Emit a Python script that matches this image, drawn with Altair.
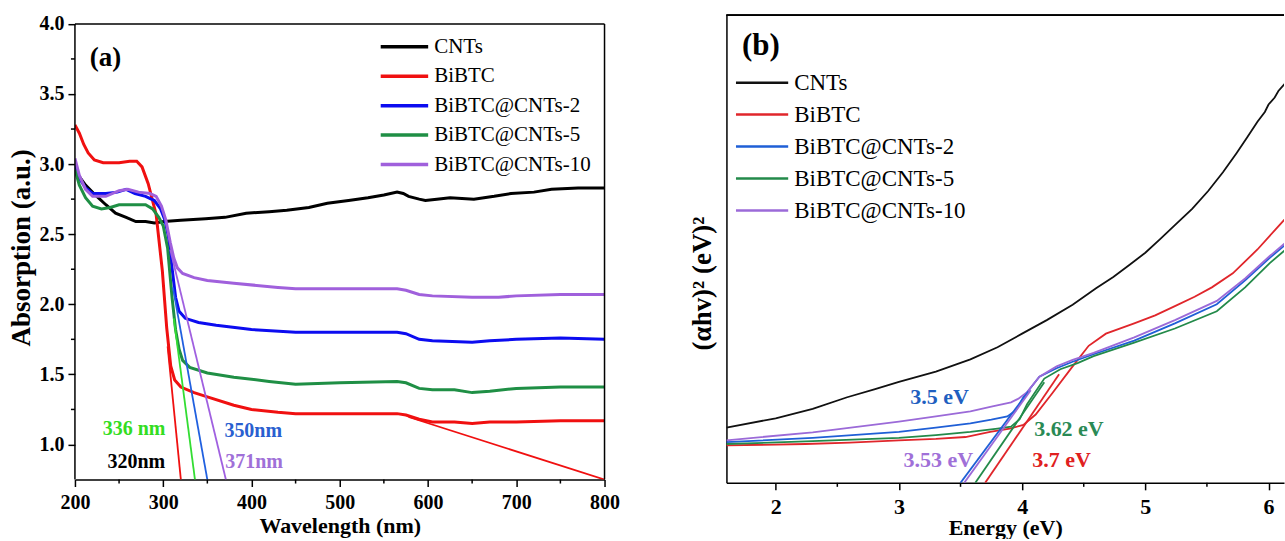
import altair as alt
import pandas as pd

FONT = "Liberation Serif"

series_names = ["CNTs", "BiBTC", "BiBTC@CNTs-2", "BiBTC@CNTs-5", "BiBTC@CNTs-10"]

# ---------------- panel (a): absorption spectra ----------------
wl_cnts = [200, 205, 212, 223, 235, 246, 258, 269, 280, 290, 301, 320, 348, 370, 394, 420, 440,
           465, 486, 510, 532, 550, 565, 572, 578, 590, 597, 610, 625, 652, 675, 694, 720, 740, 770, 800]
ab_cnts = [2.96, 2.91, 2.85, 2.78, 2.71, 2.65, 2.62, 2.59, 2.59, 2.58, 2.59, 2.60, 2.61, 2.62, 2.65, 2.66, 2.67,
           2.69, 2.72, 2.74, 2.76, 2.78, 2.80, 2.79, 2.77, 2.75, 2.74, 2.75, 2.76, 2.75, 2.77, 2.79, 2.80, 2.82, 2.83, 2.83]

wl_bibtc = [200, 205, 210, 215, 222, 232, 250, 262, 270, 276, 283, 292, 299, 304, 308.5, 313, 320, 335, 350,
            380, 400, 430, 450, 500, 565, 575, 590, 605, 630, 650, 670, 700, 750, 800]
ab_bibtc = [3.28, 3.22, 3.14, 3.08, 3.03, 3.01, 3.01, 3.02, 3.02, 2.98, 2.86, 2.64, 2.24, 1.83, 1.56, 1.46, 1.41,
            1.37, 1.34, 1.28, 1.25, 1.23, 1.22, 1.22, 1.22, 1.21, 1.18, 1.16, 1.16, 1.15, 1.16, 1.16, 1.17, 1.17]

wl_c2 = [200, 205, 212, 220, 235, 248, 258, 268, 280, 290, 297, 302, 306, 310, 314, 318, 325, 340, 360, 400,
         450, 500, 565, 575, 590, 605, 650, 670, 700, 750, 800]
ab_c2 = [3.00, 2.90, 2.83, 2.79, 2.79, 2.80, 2.82, 2.79, 2.77, 2.74, 2.68, 2.60, 2.48, 2.26, 2.05, 1.95, 1.90,
         1.87, 1.85, 1.82, 1.80, 1.80, 1.80, 1.79, 1.75, 1.74, 1.73, 1.74, 1.75, 1.76, 1.75]

wl_c5 = [200, 205, 212, 220, 230, 240, 250, 265, 280, 288, 295, 300, 305, 310, 314, 318, 322, 330, 350, 380,
         420, 450, 500, 565, 575, 590, 605, 630, 650, 670, 700, 750, 800]
ab_c5 = [2.96, 2.85, 2.76, 2.70, 2.68, 2.69, 2.71, 2.71, 2.71, 2.68, 2.62, 2.56, 2.40, 2.05, 1.82, 1.68, 1.60,
         1.55, 1.51, 1.48, 1.45, 1.43, 1.44, 1.45, 1.44, 1.40, 1.39, 1.39, 1.37, 1.38, 1.40, 1.41, 1.41]

wl_c10 = [200, 205, 212, 220, 235, 250, 260, 272, 285, 292, 298, 303, 308, 312, 316, 322, 335, 350, 380, 430,
          450, 500, 565, 575, 590, 605, 650, 680, 700, 750, 800]
ab_c10 = [3.04, 2.92, 2.82, 2.77, 2.77, 2.81, 2.82, 2.80, 2.79, 2.77, 2.70, 2.60, 2.44, 2.33, 2.26, 2.22, 2.19,
          2.17, 2.15, 2.12, 2.11, 2.11, 2.11, 2.10, 2.07, 2.06, 2.05, 2.05, 2.06, 2.07, 2.07]

# tangent (band-edge) lines, panel (a)
tan_a_names = ["t320", "t320", "tbase", "tbase", "t336", "t336", "t350", "t350", "t371", "t371"]
tan_a_wl = [320, 305, 578, 800, 336, 312, 350, 311, 371, 308]
tan_a_ab = [0.75, 1.70, 1.196, 0.75, 0.75, 1.90, 0.75, 2.12, 0.75, 2.39]
tan_a_col = ["#f01010", "#f01010", "#f01010", "#f01010", "#33dd33", "#33dd33",
             "#2060e0", "#2060e0", "#a060e0", "#a060e0"]

ann_a_txt = ["336 nm", "320nm", "350nm", "371nm"]
ann_a_wl = [267, 269.5, 402, 403]
ann_a_ab = [1.11, 0.875, 1.095, 0.875]
ann_a_col = ["#33dd22", "#000000", "#2a5fd0", "#a070d8"]

minor_a_x = [250, 350, 450, 550, 650, 750]
minor_a_y = [1.25, 1.75, 2.25, 2.75, 3.25, 3.75]

# frame of panel (a): top, left and right sides (wavelength / absorption extents)
frame_a_wl = [200, 200, 800]
frame_a_wl2 = [800, 200, 800]
frame_a_ab = [4.0, 0.75, 0.75]
frame_a_ab2 = [4.0, 4.0, 4.0]

# ---------------- panel (b): Tauc plot ----------------
e_cnts = [1.6, 2.0, 2.3, 2.58, 2.8, 3.0, 3.3, 3.58, 3.8, 4.0, 4.2, 4.41, 4.6, 4.74, 4.87, 5.0, 5.12, 5.24,
          5.38, 5.51, 5.63, 5.74, 5.83, 5.91, 5.97, 6.0, 6.05, 6.08, 6.14]
v_cnts = [11.8, 13.8, 15.8, 18.3, 20.0, 21.6, 23.8, 26.4, 29.0, 31.9, 34.8, 38.1, 41.6, 44.0, 46.6, 49.2, 52.1,
          55.1, 58.6, 62.4, 66.4, 70.5, 74.0, 77.2, 79.3, 80.9, 82.4, 83.8, 85.6]

e_red = [1.6, 2.24, 2.6, 3.0, 3.3, 3.54, 3.74, 3.9, 4.01, 4.11, 4.24, 4.41, 4.54, 4.68, 4.91, 5.08, 5.24,
         5.4, 5.54, 5.71, 5.91, 6.05, 6.14]
v_red = [8.0, 8.3, 8.6, 9.1, 9.4, 9.8, 10.9, 11.6, 12.4, 14.6, 19.0, 24.9, 29.3, 31.9, 34.1, 35.8, 37.8,
         39.8, 41.8, 44.8, 49.9, 54.0, 56.6]

e_c2 = [1.6, 2.3, 3.0, 3.3, 3.58, 3.75, 3.88, 3.95, 4.01, 4.14, 4.28, 4.41, 4.58, 4.91, 5.24, 5.58, 5.81,
        6.01, 6.14]
v_c2 = [8.7, 9.6, 10.9, 11.8, 12.7, 13.5, 14.2, 15.5, 18.3, 22.7, 24.5, 25.9, 27.5, 30.4, 34.1, 38.2, 43.3,
        48.1, 51.0]

e_c5 = [1.6, 2.3, 3.0, 3.3, 3.58, 3.8, 3.91, 3.98, 4.04, 4.18, 4.31, 4.45, 4.58, 4.91, 5.24, 5.58, 5.81,
        6.01, 6.14]
v_c5 = [8.3, 8.9, 9.6, 10.2, 10.9, 11.6, 12.0, 13.6, 16.8, 22.3, 24.3, 25.6, 27.1, 30.0, 33.0, 36.7, 41.8,
        47.0, 49.9]

e_c10 = [1.6, 2.3, 3.0, 3.3, 3.58, 3.75, 3.91, 3.97, 4.04, 4.14, 4.28, 4.41, 4.58, 4.91, 5.24, 5.58, 5.81,
         6.01, 6.14]
v_c10 = [9.1, 10.8, 13.1, 14.2, 15.3, 16.3, 17.2, 18.0, 19.4, 22.7, 24.9, 26.3, 27.8, 31.1, 34.8, 38.9, 43.7,
         48.5, 51.4]

tan_b_names = ["t35", "t35", "t353", "t353", "t362", "t362", "t37", "t37"]
tan_b_e = [3.50, 4.05, 3.53, 4.07, 3.62, 4.18, 3.70, 4.30]
tan_b_v = [0.0, 19.5, 0.0, 19.8, 0.0, 21.5, 0.0, 23.2]
tan_b_col = ["#1f5fd6", "#1f5fd6", "#9b6ad8", "#9b6ad8", "#238a4a", "#238a4a", "#e0262b", "#e0262b"]

ann_b_txt = ["3.5 eV", "3.62 eV", "3.53 eV", "3.7 eV"]
ann_b_e = [3.33, 4.38, 3.32, 4.32]
ann_b_v = [18.3, 11.5, 4.8, 4.8]
ann_b_col = ["#1f5fc0", "#2a8a55", "#a070d8", "#e02020"]

minor_b_x = [2.5, 3.5, 4.5, 5.5]

colors_a = ["#000000", "#f01010", "#0c0cf0", "#1f8f45", "#a060dc"]
colors_b = ["#111111", "#e0262b", "#1f5fd6", "#238a4a", "#9b6ad8"]

# ---------------- build tables ----------------
def long_table(xs_list, ys_list, xname, yname):
    rows = []
    for name, xs, ys in zip(series_names, xs_list, ys_list):
        for i, (x, y) in enumerate(zip(xs, ys)):
            rows.append({xname: x, yname: y, "series": name, "idx": i})
    return pd.DataFrame(rows)

df_a = long_table([wl_cnts, wl_bibtc, wl_c2, wl_c5, wl_c10],
                  [ab_cnts, ab_bibtc, ab_c2, ab_c5, ab_c10], "wl", "ab")
df_b = long_table([e_cnts, e_red, e_c2, e_c5, e_c10],
                  [v_cnts, v_red, v_c2, v_c5, v_c10], "e", "v")

tan_a = pd.DataFrame({"name": tan_a_names, "wl": tan_a_wl, "ab": tan_a_ab, "col": tan_a_col})
ann_a = pd.DataFrame({"txt": ann_a_txt, "wl": ann_a_wl, "ab": ann_a_ab, "col": ann_a_col})
lab_a = pd.DataFrame({"txt": ["(a)"], "wl": [234.5], "ab": [3.755]})
mx_a = pd.DataFrame({"wl": minor_a_x})
my_a = pd.DataFrame({"ab": minor_a_y})
fr_a = pd.DataFrame({"wl": frame_a_wl, "wl2": frame_a_wl2, "ab": frame_a_ab, "ab2": frame_a_ab2})

tan_b = pd.DataFrame({"name": tan_b_names, "e": tan_b_e, "v": tan_b_v, "col": tan_b_col})
ann_b = pd.DataFrame({"txt": ann_b_txt, "e": ann_b_e, "v": ann_b_v, "col": ann_b_col})
lab_b = pd.DataFrame({"txt": ["(b)"], "e": [1.88], "v": [93.5]})
mx_b = pd.DataFrame({"e": minor_b_x})

# ---------------- panel (a) chart ----------------
PX_PER_UNIT_A = 140.3
TOP_GAP = 8.7
WA, HA = 530, 456 + TOP_GAP
xa_scale = alt.Scale(domain=[200, 800], nice=False, zero=False)
ya_scale = alt.Scale(domain=[0.75, 4.0 + TOP_GAP / PX_PER_UNIT_A], nice=False, zero=False)
xa_axis = alt.Axis(values=[200, 300, 400, 500, 600, 700, 800], format="d", title="Wavelength (nm)",
                   domain=True, domainWidth=1.5, tickSize=7, tickWidth=1.5, labelFontSize=20, labelPadding=6,
                   labelFlush=False, titleFontSize=22, titlePadding=3)
ya_axis = alt.Axis(values=[1.0, 1.5, 2.0, 2.5, 3.0, 3.5, 4.0], format=".1f", title="Absorption (a.u.)",
                   domain=False, tickSize=7, tickWidth=1.5, labelFontSize=20, labelPadding=4,
                   labelFlush=False, titleFontSize=27, titlePadding=3)
xa = alt.X("wl:Q", scale=xa_scale, axis=xa_axis)
ya = alt.Y("ab:Q", scale=ya_scale, axis=ya_axis)

lines_a = alt.Chart(df_a).mark_line(strokeWidth=3, clip=True).encode(
    x=xa, y=ya, order="idx:Q",
    color=alt.Color("series:N", scale=alt.Scale(domain=series_names, range=colors_a),
                    legend=alt.Legend(orient="none", legendX=332.5, legendY=20, direction="vertical",
                                      title=None, symbolType="M-4,0H1", symbolSize=361,
                                      symbolStrokeWidth=3.5, symbolFillColor="transparent",
                                      labelFont=FONT, labelFontSize=21, labelColor="black",
                                      labelOffset=4, rowPadding=7.5, padding=0, labelLimit=400)))
tang_a = alt.Chart(tan_a).mark_line(strokeWidth=1.8, clip=True).encode(
    x=xa, y=ya, detail="name:N", stroke=alt.Color("col:N", scale=None))
text_a = alt.Chart(ann_a).mark_text(font=FONT, fontSize=20, fontWeight="bold").encode(
    x=xa, y=ya, text="txt:N", color=alt.Color("col:N", scale=None))
plab_a = alt.Chart(lab_a).mark_text(font=FONT, fontSize=27, fontWeight="bold", color="black").encode(
    x=xa, y=ya, text="txt:N")
mtx_a = alt.Chart(mx_a).mark_rule(color="black", strokeWidth=1.5).encode(
    x=xa, y=alt.value(HA), y2=alt.value(HA + 4))
mty_a = alt.Chart(my_a).mark_rule(color="black", strokeWidth=1.5).encode(
    y=ya, x=alt.value(0), x2=alt.value(-4))
frame_a = alt.Chart(fr_a).mark_rule(color="black", strokeWidth=1.5).encode(
    x=xa, x2="wl2:Q", y=ya, y2="ab2:Q")

chart_a = alt.layer(lines_a, tang_a, text_a, plab_a, mtx_a, mty_a, frame_a).properties(
    width=WA, height=HA)

# ---------------- panel (b) chart ----------------
WB, HB = 558, 468
xb_scale = alt.Scale(domain=[1.6, 1.6 + WB / 123.3], nice=False, zero=False)
yb_scale = alt.Scale(domain=[0, 100], nice=False, zero=False)
xb_axis = alt.Axis(values=[2, 3, 4, 5, 6], format="d", title="Energy (eV)",
                   domain=True, domainWidth=1.5, tickSize=7, tickWidth=1.5, labelFontSize=22,
                   labelPadding=7, labelFlush=False, titleFontSize=22, titlePadding=0)
yb_axis = alt.Axis(title="(αhv)² (eV)²", domain=True, domainWidth=1.5, ticks=False, labels=False,
                   titleFontSize=27, titlePadding=10, titleY=268)
xb = alt.X("e:Q", scale=xb_scale, axis=xb_axis)
yb = alt.Y("v:Q", scale=yb_scale, axis=yb_axis)

lines_b = alt.Chart(df_b).mark_line(strokeWidth=1.8, clip=True).encode(
    x=xb, y=yb, order="idx:Q",
    color=alt.Color("series:N", scale=alt.Scale(domain=series_names, range=colors_b),
                    legend=alt.Legend(orient="none", legendX=40.8, legendY=56, direction="vertical",
                                      title=None, symbolType="M-4.5,0H1", symbolSize=361,
                                      symbolStrokeWidth=2.5, symbolFillColor="transparent",
                                      labelFont=FONT, labelFontSize=23, labelColor="black",
                                      labelOffset=4, rowPadding=8, padding=0, labelLimit=400)))
tang_b = alt.Chart(tan_b).mark_line(strokeWidth=1.8, clip=True).encode(
    x=xb, y=yb, detail="name:N", stroke=alt.Color("col:N", scale=None))
text_b = alt.Chart(ann_b).mark_text(font=FONT, fontSize=22, fontWeight="bold").encode(
    x=xb, y=yb, text="txt:N", color=alt.Color("col:N", scale=None))
plab_b = alt.Chart(lab_b).mark_text(font=FONT, fontSize=31, fontWeight="bold", color="black").encode(
    x=xb, y=yb, text="txt:N")
mtx_b = alt.Chart(mx_b).mark_rule(color="black", strokeWidth=1.5).encode(
    x=xb, y=alt.value(HB), y2=alt.value(HB + 4))
top_b = alt.Chart(mx_b).mark_rule(color="black", strokeWidth=1.5).encode(
    x=alt.value(0), x2=alt.value(WB), y=alt.value(0))

chart_b = alt.layer(lines_b, tang_b, text_b, plab_b, mtx_b, top_b).properties(
    width=WB, height=HB)

chart = alt.hconcat(chart_a, chart_b, spacing=69).resolve_scale(color="independent").properties(
    padding={"left": 8, "top": 13, "right": 0, "bottom": 0},
    background="white"
).configure_view(stroke=None).configure_axis(
    labelFont=FONT, titleFont=FONT, labelFontWeight="bold", titleFontWeight="bold",
    labelColor="black", titleColor="black", tickColor="black", domainColor="black", grid=False
)

chart.save("out.html", embed_options={"renderer": "svg", "actions": False})
